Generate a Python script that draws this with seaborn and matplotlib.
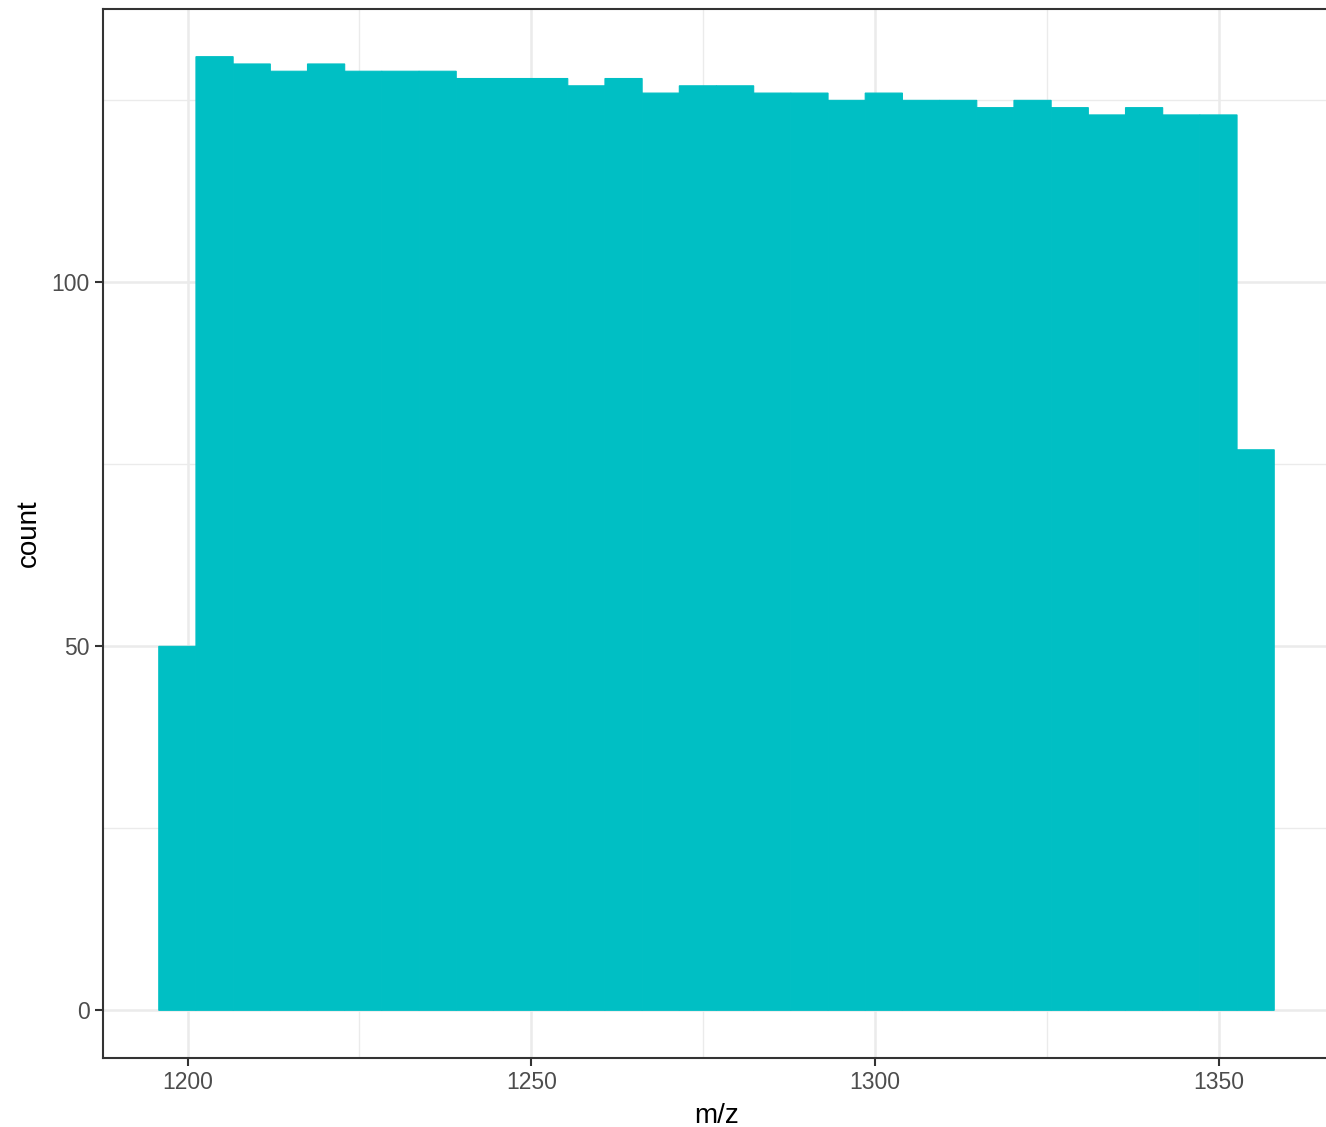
import numpy as np
import pandas as pd
import seaborn as sns
import matplotlib.pyplot as plt
from matplotlib.ticker import MultipleLocator

# histogram bins
bin_start = 1195.8
bin_width = 5.41
counts = [50, 131, 130, 129, 130, 129, 129, 129, 128, 128, 128, 127, 128, 126, 127,
          127, 126, 126, 125, 126, 125, 125, 124, 125, 124, 123, 124, 123, 123, 77]
x_ticks = [1200, 1250, 1300, 1350]
y_ticks = [0, 50, 100]

edges = bin_start + bin_width * np.arange(len(counts) + 1)
df = pd.DataFrame({"mz": (edges[:-1] + edges[1:]) / 2, "count": counts})

sns.set_style("white")
plt.rcParams['font.family'] = ['Liberation Sans', 'DejaVu Sans']

fig = plt.figure(figsize=(13.26, 11.27), dpi=100)
ax = fig.add_axes([103 / 1326, 69 / 1127, 1227 / 1326, 1049 / 1127])

sns.histplot(data=df, x="mz", weights="count", bins=len(counts),
             binrange=(edges[0], edges[-1]), color="#00BFC4",
             edgecolor="#00BFC4", linewidth=0.8, alpha=1, ax=ax, zorder=2,
             snap=False)

xr = edges[-1] - edges[0]
ax.set_xlim(edges[0] - 0.05 * xr, edges[-1] + 0.05 * xr)
ymax = max(counts)
ax.set_ylim(-0.05 * ymax, ymax * 1.05)

ax.set_xticks(x_ticks)
ax.set_yticks(y_ticks)
ax.xaxis.set_minor_locator(MultipleLocator(25))
ax.yaxis.set_minor_locator(MultipleLocator(25))
ax.set_axisbelow(True)
ax.grid(which="major", color="#EBEBEB", linewidth=1.8, zorder=0)
ax.grid(which="minor", color="#EBEBEB", linewidth=1.0, zorder=0)

for s in ax.spines.values():
    s.set_color("#333333")
    s.set_linewidth(1.5)
    s.set_visible(True)

ax.tick_params(which="major", length=5.5, width=1.5, color="#333333",
               labelcolor="#4D4D4D", labelsize=16.5, pad=4,
               bottom=True, left=True)
ax.tick_params(which="minor", length=0)

ax.set_xlabel("m/z", fontsize=20, color="black", labelpad=6)
ax.set_ylabel("count", fontsize=20, color="black", labelpad=7)

fig.savefig("out.png", dpi=100)
